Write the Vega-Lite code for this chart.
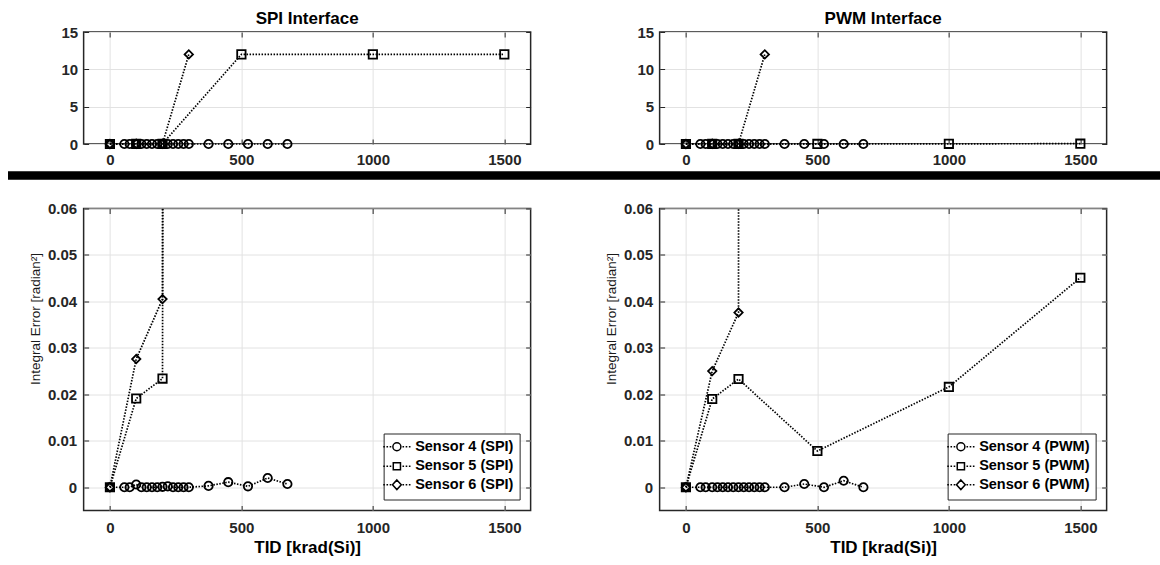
{
  "$schema": "https://vega.github.io/schema/vega-lite/v6.json",
  "padding": {"left": 8, "top": 8, "right": 0, "bottom": 0},
  "background": "white",
  "data": {"values": [
    {"iface":"SPI","sensor":"Sensor 4 (SPI)","tid":0,"err":0},
    {"iface":"SPI","sensor":"Sensor 4 (SPI)","tid":55,"err":0},
    {"iface":"SPI","sensor":"Sensor 4 (SPI)","tid":75,"err":0},
    {"iface":"SPI","sensor":"Sensor 4 (SPI)","tid":100,"err":0.0006},
    {"iface":"SPI","sensor":"Sensor 4 (SPI)","tid":120,"err":0},
    {"iface":"SPI","sensor":"Sensor 4 (SPI)","tid":140,"err":0},
    {"iface":"SPI","sensor":"Sensor 4 (SPI)","tid":160,"err":0},
    {"iface":"SPI","sensor":"Sensor 4 (SPI)","tid":180,"err":0},
    {"iface":"SPI","sensor":"Sensor 4 (SPI)","tid":200,"err":0.0001},
    {"iface":"SPI","sensor":"Sensor 4 (SPI)","tid":220,"err":0.0002},
    {"iface":"SPI","sensor":"Sensor 4 (SPI)","tid":240,"err":0},
    {"iface":"SPI","sensor":"Sensor 4 (SPI)","tid":260,"err":0},
    {"iface":"SPI","sensor":"Sensor 4 (SPI)","tid":280,"err":0},
    {"iface":"SPI","sensor":"Sensor 4 (SPI)","tid":300,"err":0},
    {"iface":"SPI","sensor":"Sensor 4 (SPI)","tid":375,"err":0.0003},
    {"iface":"SPI","sensor":"Sensor 4 (SPI)","tid":450,"err":0.0011},
    {"iface":"SPI","sensor":"Sensor 4 (SPI)","tid":525,"err":0.0002},
    {"iface":"SPI","sensor":"Sensor 4 (SPI)","tid":600,"err":0.002},
    {"iface":"SPI","sensor":"Sensor 4 (SPI)","tid":675,"err":0.0007},
    {"iface":"SPI","sensor":"Sensor 5 (SPI)","tid":0,"err":0},
    {"iface":"SPI","sensor":"Sensor 5 (SPI)","tid":100,"err":0.0191},
    {"iface":"SPI","sensor":"Sensor 5 (SPI)","tid":200,"err":0.0234},
    {"iface":"SPI","sensor":"Sensor 5 (SPI)","tid":500,"err":12},
    {"iface":"SPI","sensor":"Sensor 5 (SPI)","tid":1000,"err":12},
    {"iface":"SPI","sensor":"Sensor 5 (SPI)","tid":1500,"err":12},
    {"iface":"SPI","sensor":"Sensor 6 (SPI)","tid":0,"err":0},
    {"iface":"SPI","sensor":"Sensor 6 (SPI)","tid":100,"err":0.0276},
    {"iface":"SPI","sensor":"Sensor 6 (SPI)","tid":200,"err":0.0405},
    {"iface":"SPI","sensor":"Sensor 6 (SPI)","tid":300,"err":12},
    {"iface":"PWM","sensor":"Sensor 4 (PWM)","tid":0,"err":0},
    {"iface":"PWM","sensor":"Sensor 4 (PWM)","tid":55,"err":0},
    {"iface":"PWM","sensor":"Sensor 4 (PWM)","tid":75,"err":0},
    {"iface":"PWM","sensor":"Sensor 4 (PWM)","tid":100,"err":0},
    {"iface":"PWM","sensor":"Sensor 4 (PWM)","tid":120,"err":0},
    {"iface":"PWM","sensor":"Sensor 4 (PWM)","tid":140,"err":0},
    {"iface":"PWM","sensor":"Sensor 4 (PWM)","tid":160,"err":0},
    {"iface":"PWM","sensor":"Sensor 4 (PWM)","tid":180,"err":0},
    {"iface":"PWM","sensor":"Sensor 4 (PWM)","tid":200,"err":0},
    {"iface":"PWM","sensor":"Sensor 4 (PWM)","tid":220,"err":0},
    {"iface":"PWM","sensor":"Sensor 4 (PWM)","tid":240,"err":0},
    {"iface":"PWM","sensor":"Sensor 4 (PWM)","tid":260,"err":0},
    {"iface":"PWM","sensor":"Sensor 4 (PWM)","tid":280,"err":0},
    {"iface":"PWM","sensor":"Sensor 4 (PWM)","tid":300,"err":0},
    {"iface":"PWM","sensor":"Sensor 4 (PWM)","tid":375,"err":0},
    {"iface":"PWM","sensor":"Sensor 4 (PWM)","tid":450,"err":0.0007},
    {"iface":"PWM","sensor":"Sensor 4 (PWM)","tid":525,"err":0},
    {"iface":"PWM","sensor":"Sensor 4 (PWM)","tid":600,"err":0.0014},
    {"iface":"PWM","sensor":"Sensor 4 (PWM)","tid":675,"err":0},
    {"iface":"PWM","sensor":"Sensor 5 (PWM)","tid":0,"err":0},
    {"iface":"PWM","sensor":"Sensor 5 (PWM)","tid":100,"err":0.019},
    {"iface":"PWM","sensor":"Sensor 5 (PWM)","tid":200,"err":0.0233},
    {"iface":"PWM","sensor":"Sensor 5 (PWM)","tid":500,"err":0.0078},
    {"iface":"PWM","sensor":"Sensor 5 (PWM)","tid":1000,"err":0.0216},
    {"iface":"PWM","sensor":"Sensor 5 (PWM)","tid":1500,"err":0.0451},
    {"iface":"PWM","sensor":"Sensor 6 (PWM)","tid":0,"err":0},
    {"iface":"PWM","sensor":"Sensor 6 (PWM)","tid":100,"err":0.025},
    {"iface":"PWM","sensor":"Sensor 6 (PWM)","tid":200,"err":0.0376},
    {"iface":"PWM","sensor":"Sensor 6 (PWM)","tid":300,"err":12}
  ]},
  "config": {
    "font": "Liberation Sans",
    "view": {"stroke": "#262626", "strokeWidth": 1.5},
    "title": {"font": "Liberation Sans", "fontSize": 17, "fontWeight": "bold", "color": "black", "anchor": "middle", "offset": -2.5},
    "axis": {
      "labelFont": "Liberation Sans", "labelFontSize": 15, "labelFontWeight": "bold", "labelColor": "#262626",
      "titleFont": "Liberation Sans", "titleColor": "#1a1a1a",
      "gridColor": "#e2e2e2", "gridWidth": 1, "domain": false,
      "tickColor": "#262626", "tickSize": -5, "tickWidth": 1,
      "labelFlush": false, "labelOverlap": false
    },
    "legend": {
      "labelFont": "Liberation Sans", "labelFontSize": 14.5, "labelFontWeight": "bold", "labelColor": "black"
    }
  },
  "spacing": 3.5,
  "center": true,
  "vconcat": [
    {
      "hconcat": [
        {
          "width": 447, "height": 112,
          "title": {"text": "SPI Interface"},
          "transform": [{"filter": "datum.iface === 'SPI'"}],
          "layer": [
            {"mark": {"type": "line", "color": "black", "strokeWidth": 1.7, "strokeDash": [1.5, 1.5]},
             "encoding": {
               "x": {"field": "tid", "type": "quantitative", "scale": {"domain": [-100, 1600], "nice": false, "zero": false},
                     "axis": {"orient": "bottom", "values": [0, 500, 1000, 1500], "format": "d", "grid": true, "labelPadding": 13, "title": null}},
               "y": {"field": "err", "type": "quantitative", "scale": {"domain": [0, 15], "nice": false, "zero": false},
                     "axis": {"orient": "left", "values": [0, 5, 10, 15], "grid": true, "labelPadding": 11, "title": null, "minExtent": 55, "maxExtent": 55}},
               "detail": {"field": "sensor"}
             }},
            {"mark": {"type": "point", "filled": false, "color": "black", "strokeWidth": 1.8, "size": 70, "opacity": 1},
             "encoding": {
               "x": {"field": "tid", "type": "quantitative", "scale": {"domain": [-100, 1600], "nice": false, "zero": false},
                     "axis": {"orient": "top", "values": [0, 500, 1000, 1500], "grid": false, "labels": false, "title": null}},
               "y": {"field": "err", "type": "quantitative", "scale": {"domain": [0, 15], "nice": false, "zero": false},
                     "axis": {"orient": "right", "values": [0, 5, 10, 15], "grid": false, "labels": false, "title": null}},
               "shape": {"field": "sensor", "type": "nominal", "scale": {"domain": ["Sensor 4 (SPI)", "Sensor 5 (SPI)", "Sensor 6 (SPI)"], "range": ["circle", "square", "diamond"]}, "legend": null}
             }}
          ],
          "resolve": {"axis": {"x": "independent", "y": "independent"}}
        },
        {
          "width": 447, "height": 112,
          "title": {"text": "PWM Interface"},
          "transform": [{"filter": "datum.iface === 'PWM'"}],
          "layer": [
            {"mark": {"type": "line", "color": "black", "strokeWidth": 1.7, "strokeDash": [1.5, 1.5]},
             "encoding": {
               "x": {"field": "tid", "type": "quantitative", "scale": {"domain": [-100, 1600], "nice": false, "zero": false},
                     "axis": {"orient": "bottom", "values": [0, 500, 1000, 1500], "format": "d", "grid": true, "labelPadding": 13, "title": null}},
               "y": {"field": "err", "type": "quantitative", "scale": {"domain": [0, 15], "nice": false, "zero": false},
                     "axis": {"orient": "left", "values": [0, 5, 10, 15], "grid": true, "labelPadding": 11, "title": null}},
               "detail": {"field": "sensor"}
             }},
            {"mark": {"type": "point", "filled": false, "color": "black", "strokeWidth": 1.8, "size": 70, "opacity": 1},
             "encoding": {
               "x": {"field": "tid", "type": "quantitative", "scale": {"domain": [-100, 1600], "nice": false, "zero": false},
                     "axis": {"orient": "top", "values": [0, 500, 1000, 1500], "grid": false, "labels": false, "title": null}},
               "y": {"field": "err", "type": "quantitative", "scale": {"domain": [0, 15], "nice": false, "zero": false},
                     "axis": {"orient": "right", "values": [0, 5, 10, 15], "grid": false, "labels": false, "title": null, "minExtent": 33, "maxExtent": 33}},
               "shape": {"field": "sensor", "type": "nominal", "scale": {"domain": ["Sensor 4 (PWM)", "Sensor 5 (PWM)", "Sensor 6 (PWM)"], "range": ["circle", "square", "diamond"]}, "legend": null}
             }}
          ],
          "resolve": {"axis": {"x": "independent", "y": "independent"}}
        }
      ],
      "spacing": 129,
      "bounds": "flush",
      "resolve": {"scale": {"shape": "independent"}}
    },
    {
      "spacing": 21,
      "center": true,
      "vconcat": [
        {
          "data": {"values": [{}]},
          "width": 1208, "height": 8,
          "view": {"stroke": null, "fill": "black"},
          "mark": {"type": "rect", "color": "black"}
        },
        {
          "hconcat": [
            {
              "width": 447, "height": 302,
              "transform": [{"filter": "datum.iface === 'SPI'"}],
              "layer": [
                {"mark": {"type": "line", "color": "black", "strokeWidth": 1.7, "strokeDash": [1.5, 1.5], "clip": true},
                 "encoding": {
                   "x": {"field": "tid", "type": "quantitative", "scale": {"domain": [-100, 1600], "nice": false, "zero": false},
                         "axis": {"orient": "bottom", "values": [0, 500, 1000, 1500], "format": "d", "grid": true, "labelPadding": 15, "title": "TID [krad(Si)]", "titleFontSize": 17, "titleFontWeight": "bold", "titleColor": "black", "titlePadding": 4}},
                   "y": {"field": "err", "type": "quantitative", "scale": {"domain": [-0.005, 0.06], "nice": false, "zero": false},
                         "axis": {"orient": "left", "values": [0, 0.01, 0.02, 0.03, 0.04, 0.05, 0.06], "format": ".2~f", "grid": true, "labelPadding": 12, "title": "Integral Error [radian²]", "titleFontSize": 13.5, "titleFontWeight": "normal", "titlePadding": 5, "titleY": 110}},
                   "detail": {"field": "sensor"}
                 }},
                {"mark": {"type": "point", "filled": false, "color": "black", "strokeWidth": 1.8, "size": 70, "opacity": 1, "clip": true},
                 "encoding": {
                   "x": {"field": "tid", "type": "quantitative", "scale": {"domain": [-100, 1600], "nice": false, "zero": false},
                         "axis": {"orient": "top", "values": [0, 500, 1000, 1500], "grid": false, "labels": false, "title": null}},
                   "y": {"field": "err", "type": "quantitative", "scale": {"domain": [-0.005, 0.06], "nice": false, "zero": false},
                         "axis": {"orient": "right", "values": [0, 0.01, 0.02, 0.03, 0.04, 0.05, 0.06], "grid": false, "labels": false, "title": null}},
                   "shape": {"field": "sensor", "type": "nominal", "scale": {"domain": ["Sensor 4 (SPI)", "Sensor 5 (SPI)", "Sensor 6 (SPI)"], "range": ["circle", "square", "diamond"]}, "legend": null}
                 }},
                {"mark": {"type": "point", "opacity": 0, "clip": true},
                 "encoding": {
                   "x": {"field": "tid", "type": "quantitative", "scale": {"domain": [-100, 1600], "nice": false, "zero": false}, "axis": null},
                   "y": {"field": "err", "type": "quantitative", "scale": {"domain": [-0.005, 0.06], "nice": false, "zero": false}, "axis": null},
                   "shape": {"field": "sensor", "type": "nominal",
                     "scale": {"domain": ["Sensor 4 (SPI)", "Sensor 5 (SPI)", "Sensor 6 (SPI)"], "range": [
                       "M-3.4,0L-3,0M-2.6,0L-2.2,0M-1.8,0L-1.4,0M1.4,0L1.8,0M2.2,0L2.6,0M3,0L3.4,0M1,0A1,1,0,1,1,-1,0A1,1,0,1,1,1,0Z",
                       "M-3.4,0L-3,0M-2.6,0L-2.2,0M-1.8,0L-1.4,0M1.4,0L1.8,0M2.2,0L2.6,0M3,0L3.4,0M-0.9,-0.9L0.9,-0.9L0.9,0.9L-0.9,0.9Z",
                       "M-3.4,0L-3,0M-2.6,0L-2.2,0M-1.8,0L-1.4,0M1.4,0L1.8,0M2.2,0L2.6,0M3,0L3.4,0M0,-1.2L1.1,0L0,1.2L-1.1,0Z"
                     ]},
                     "legend": {"orient": "bottom-right", "title": null, "offset": 11, "padding": 6, "rowPadding": 3.5,
                       "strokeColor": "#262626", "fillColor": "white", "cornerRadius": 0,
                       "symbolSize": 64, "symbolStrokeWidth": 1.5, "symbolStrokeColor": "black", "symbolFillColor": "transparent", "symbolOpacity": 1,
                       "labelOffset": 11}
                   }
                 }}
              ],
              "resolve": {"scale": {"shape": "independent"}, "axis": {"x": "independent", "y": "independent"}}
            },
            {
              "width": 447, "height": 302,
              "transform": [{"filter": "datum.iface === 'PWM'"}],
              "layer": [
                {"mark": {"type": "line", "color": "black", "strokeWidth": 1.7, "strokeDash": [1.5, 1.5], "clip": true},
                 "encoding": {
                   "x": {"field": "tid", "type": "quantitative", "scale": {"domain": [-100, 1600], "nice": false, "zero": false},
                         "axis": {"orient": "bottom", "values": [0, 500, 1000, 1500], "format": "d", "grid": true, "labelPadding": 15, "title": "TID [krad(Si)]", "titleFontSize": 17, "titleFontWeight": "bold", "titleColor": "black", "titlePadding": 4}},
                   "y": {"field": "err", "type": "quantitative", "scale": {"domain": [-0.005, 0.06], "nice": false, "zero": false},
                         "axis": {"orient": "left", "values": [0, 0.01, 0.02, 0.03, 0.04, 0.05, 0.06], "format": ".2~f", "grid": true, "labelPadding": 12, "title": "Integral Error [radian²]", "titleFontSize": 13.5, "titleFontWeight": "normal", "titlePadding": 5, "titleY": 110}},
                   "detail": {"field": "sensor"}
                 }},
                {"mark": {"type": "point", "filled": false, "color": "black", "strokeWidth": 1.8, "size": 70, "opacity": 1, "clip": true},
                 "encoding": {
                   "x": {"field": "tid", "type": "quantitative", "scale": {"domain": [-100, 1600], "nice": false, "zero": false},
                         "axis": {"orient": "top", "values": [0, 500, 1000, 1500], "grid": false, "labels": false, "title": null}},
                   "y": {"field": "err", "type": "quantitative", "scale": {"domain": [-0.005, 0.06], "nice": false, "zero": false},
                         "axis": {"orient": "right", "values": [0, 0.01, 0.02, 0.03, 0.04, 0.05, 0.06], "grid": false, "labels": false, "title": null, "minExtent": 33, "maxExtent": 33}},
                   "shape": {"field": "sensor", "type": "nominal", "scale": {"domain": ["Sensor 4 (PWM)", "Sensor 5 (PWM)", "Sensor 6 (PWM)"], "range": ["circle", "square", "diamond"]}, "legend": null}
                 }},
                {"mark": {"type": "point", "opacity": 0, "clip": true},
                 "encoding": {
                   "x": {"field": "tid", "type": "quantitative", "scale": {"domain": [-100, 1600], "nice": false, "zero": false}, "axis": null},
                   "y": {"field": "err", "type": "quantitative", "scale": {"domain": [-0.005, 0.06], "nice": false, "zero": false}, "axis": null},
                   "shape": {"field": "sensor", "type": "nominal",
                     "scale": {"domain": ["Sensor 4 (PWM)", "Sensor 5 (PWM)", "Sensor 6 (PWM)"], "range": [
                       "M-3.4,0L-3,0M-2.6,0L-2.2,0M-1.8,0L-1.4,0M1.4,0L1.8,0M2.2,0L2.6,0M3,0L3.4,0M1,0A1,1,0,1,1,-1,0A1,1,0,1,1,1,0Z",
                       "M-3.4,0L-3,0M-2.6,0L-2.2,0M-1.8,0L-1.4,0M1.4,0L1.8,0M2.2,0L2.6,0M3,0L3.4,0M-0.9,-0.9L0.9,-0.9L0.9,0.9L-0.9,0.9Z",
                       "M-3.4,0L-3,0M-2.6,0L-2.2,0M-1.8,0L-1.4,0M1.4,0L1.8,0M2.2,0L2.6,0M3,0L3.4,0M0,-1.2L1.1,0L0,1.2L-1.1,0Z"
                     ]},
                     "legend": {"orient": "bottom-right", "title": null, "offset": 11, "padding": 6, "rowPadding": 3.5,
                       "strokeColor": "#262626", "fillColor": "white", "cornerRadius": 0,
                       "symbolSize": 64, "symbolStrokeWidth": 1.5, "symbolStrokeColor": "black", "symbolFillColor": "transparent", "symbolOpacity": 1,
                       "labelOffset": 11}
                   }
                 }}
              ],
              "resolve": {"scale": {"shape": "independent"}, "axis": {"x": "independent", "y": "independent"}}
            }
          ],
          "spacing": 129,
          "bounds": "flush",
          "resolve": {"scale": {"shape": "independent"}}
        }
      ]
    }
  ]
}
